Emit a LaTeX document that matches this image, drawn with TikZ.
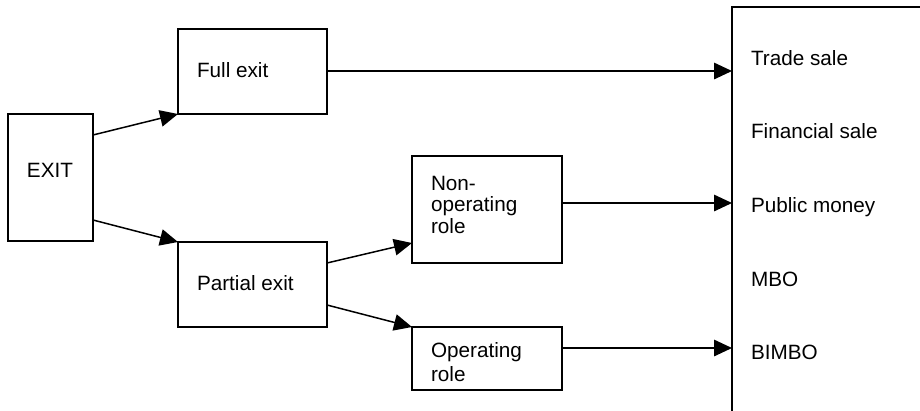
\documentclass[tikz,border=0pt]{standalone}
\usepackage{fontspec}
\setmainfont{Liberation Sans}
\usetikzlibrary{arrows.meta,calc}

\begin{document}
\begin{tikzpicture}[
    x=1pt, y=-1pt,
    line width=1.6pt,
    box/.style={draw, inner sep=0pt, outer sep=0pt, anchor=north west},
    txt/.style={inner sep=0pt, outer sep=0pt, anchor=base west, align=left,
                font=\fontsize{20.7}{22.5}\selectfont},
    flow/.style={-{Triangle[length=18pt,width=16.5pt]}, line width=1.5pt}
  ]
  \useasboundingbox (0,0) rectangle (920,410);
  \clip (0,0) rectangle (920,410);

  % boxes
  \node[box, minimum width=85pt,  minimum height=127pt] (exit)    at (8,114)   {};
  \node[box, minimum width=149pt, minimum height=85pt]  (full)    at (178,29)  {};
  \node[box, minimum width=149pt, minimum height=85pt]  (partial) at (178,242) {};
  \node[box, minimum width=150pt, minimum height=107pt] (nonop)   at (412,156) {};
  \node[box, minimum width=150pt, minimum height=63pt]  (op)      at (412,327) {};
  % outcome column, open to the right and bottom
  \node[box, minimum width=300pt, minimum height=500pt] (outbox)  at (732,7)   {};

  % box labels (multi-line labels sit on the baseline of their last line)
  \node[txt] (exitT)    at (27,177)  {EXIT};
  \node[txt] (fullT)    at (197,77)  {Full exit};
  \node[txt] (partialT) at (197,290) {Partial exit};
  \node[txt, font=\fontsize{20.7}{21.5}\selectfont] (nonopT) at (431,233) {Non-\\operating\\role};
  \node[txt, font=\fontsize{20.7}{24}\selectfont]   (opT)    at (431,381) {Operating\\role};

  % outcome labels
  \node[txt] (trade) at (751,65)  {Trade sale};
  \node[txt] (fin)   at (751,138) {Financial sale};
  \node[txt] (pub)   at (751,212) {Public money};
  \node[txt] (mbo)   at (751,286) {MBO};
  \node[txt] (bimbo) at (751,359) {BIMBO};

  % connectors
  \draw[flow] ([yshift=-21pt]exit.north east) -- (full.south west);
  \draw[flow] ([yshift=21pt]exit.south east) -- (partial.north west);
  \draw[flow] ([yshift=-21pt]partial.north east) -- ([yshift=20pt]nonop.south west);
  \draw[flow] ([yshift=22pt]partial.south east) -- (op.north west);

  \coordinate (fullOut)  at ([yshift=0.5pt]full.east);
  \coordinate (nonopOut) at ([yshift=-47pt]nonop.north east);
  \coordinate (opOut)    at ([yshift=-21pt]op.north east);
  \draw[flow] (fullOut) -- (fullOut -| outbox.west);
  \draw[flow] (nonopOut) -- (nonopOut -| outbox.west);
  \draw[flow] (opOut) -- (opOut -| outbox.west);
\end{tikzpicture}
\end{document}
